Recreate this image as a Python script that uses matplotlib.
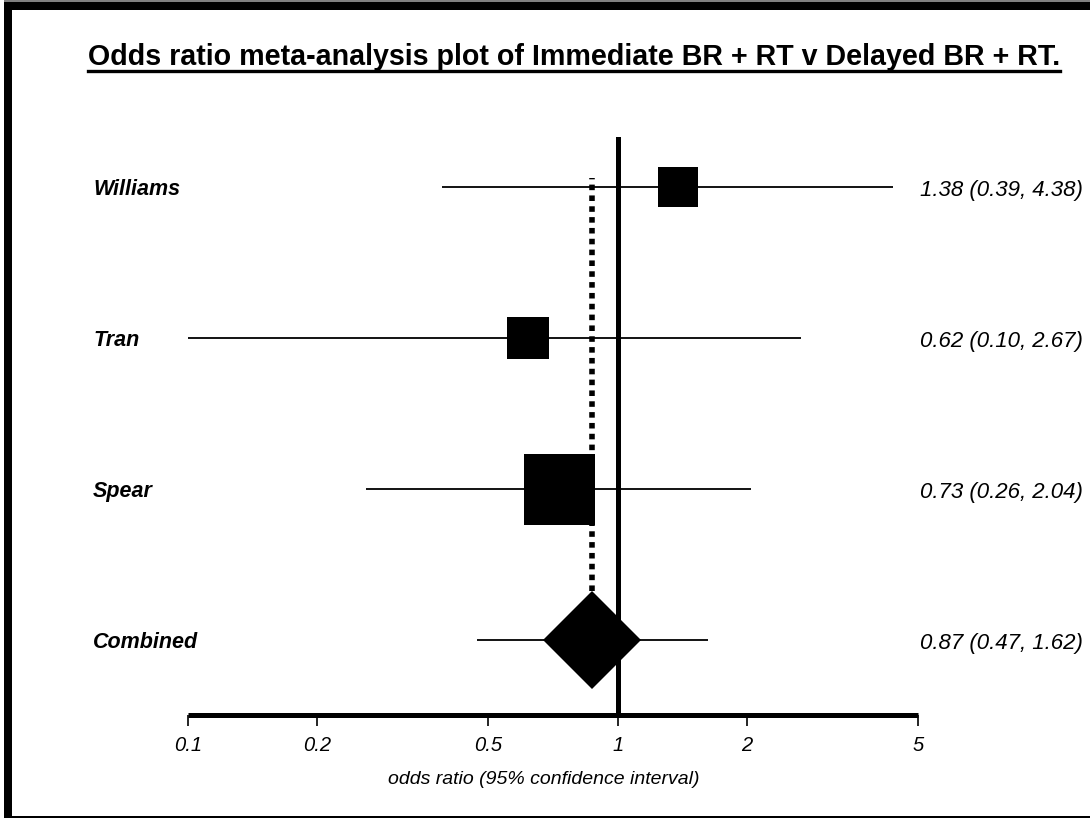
import matplotlib
matplotlib.use("Agg")
import matplotlib.pyplot as plt
from matplotlib.lines import Line2D
from matplotlib.patches import Rectangle
import matplotlib.transforms as mtransforms
import numpy as np

# ---- data ----
studies = ["Williams", "Tran", "Spear", "Combined"]
odds = [1.38, 0.62, 0.73, 0.87]
ci_low = [0.39, 0.10, 0.26, 0.47]
ci_high = [4.38, 2.67, 2.04, 1.62]
tick_vals = [0.1, 0.2, 0.5, 1, 2, 5]
tick_labels = ["0.1", "0.2", "0.5", "1", "2", "5"]
title = "Odds ratio meta-analysis plot of Immediate BR + RT v Delayed BR + RT."
xlabel = "odds ratio (95% confidence interval)"

# ---- style ----
box_px = [40, 42, 71]          # marker sizes (pixels) for the study boxes
diamond_px = 98
FONT = ["Liberation Sans", "DejaVu Sans"]

W, H, DPI = 1090, 818, 100
fig = plt.figure(figsize=(W / DPI, H / DPI), dpi=DPI)
fig.patch.set_facecolor("white")

# axes spanning pixel box x: 188..918, y(top): 137..715
ax_l, ax_r, ax_t, ax_b = 188, 918, 137, 715
ax = fig.add_axes([ax_l / W, 1 - ax_b / H, (ax_r - ax_l) / W, (ax_b - ax_t) / H])
ax.set_xscale("log")
ax.set_xlim(0.1, 5)
n = len(studies)
ypos = list(range(n - 1, -1, -1))  # Williams at top
y_lo, y_hi = -0.497, 3.33
ax.set_ylim(y_lo, y_hi)
for s in ["top", "right", "left"]:
    ax.spines[s].set_visible(False)
ax.spines["bottom"].set_linewidth(3.6)
ax.spines["bottom"].set_capstyle("butt")
ax.set_yticks([])
ax.set_xticks(tick_vals)
ax.set_xticklabels(tick_labels)
ax.xaxis.set_minor_locator(matplotlib.ticker.NullLocator())
ax.tick_params(axis="x", direction="out", length=8, width=1.2, pad=7,
               labelsize=14.5)
for lab in ax.get_xticklabels():
    lab.set_fontstyle("italic")
    lab.set_family(FONT)
ax.set_xlabel(xlabel, fontsize=14, fontstyle="italic", family=FONT)
ax.xaxis.set_label_coords(0.487, -(780 - ax_b) / (ax_b - ax_t))
ax.xaxis.label.set_va("center")

pt_per_px = 72.0 / DPI

# CI lines
for y, lo, hi in zip(ypos, ci_low, ci_high):
    ax.plot([lo, hi], [y, y], color="black", lw=1.3, solid_capstyle="butt", zorder=2)

# line of no effect
ax.axvline(1, ymin=0, ymax=1, color="black", lw=3.6, zorder=3)

# pooled estimate dotted line (from top of Williams area down to diamond top)
pooled = odds[-1]
diamond_half = (diamond_px / 2) / ((ax_b - ax_t) / (y_hi - y_lo))
ax.plot([pooled, pooled], [ypos[-1] + diamond_half, 3.06], color="black",
        lw=4.0, linestyle=(0, (1.0, 0.95)), dash_capstyle="butt", zorder=2)

# study boxes
for y, o, b in zip(ypos[:-1], odds[:-1], box_px):
    ax.plot([o], [y], marker="s", markersize=b * pt_per_px, color="black",
            mew=0, zorder=4)
# diamond
ax.plot([pooled], [ypos[-1]], marker="D", markersize=diamond_px * pt_per_px / np.sqrt(2),
        color="black", mew=0, zorder=4)

# labels
blend = mtransforms.blended_transform_factory(fig.transFigure, ax.transData)
for y, name, o, lo, hi in zip(ypos, studies, odds, ci_low, ci_high):
    ax.text(93 / W, y - 0.02, name, transform=blend,
            ha="left", va="center", fontsize=15.5, fontweight="bold", fontstyle="italic", family=FONT)
    ax.text(920 / W, y - 0.025, f"{o:.2f} ({lo:.2f}, {hi:.2f})", transform=blend,
            ha="left", va="center", fontsize=16, fontstyle="italic", family=FONT)

# title with underline
t = fig.text(574 / W, 1 - 57 / H, title, ha="center", va="center", fontsize=20.6,
             fontweight="bold", family=FONT)
fig.canvas.draw()
bb = t.get_window_extent()
uy = 1 - 71 / H
fig.add_artist(Line2D([bb.x0 / W, bb.x1 / W], [uy, uy], transform=fig.transFigure,
                      color="black", lw=2.4))

# border (left and top thick, bottom thin)
fig.add_artist(Rectangle((4 / W, 0), 8 / W, 1 - 2 / H, transform=fig.transFigure,
                         color="black", lw=0))
fig.add_artist(Rectangle((4 / W, 1 - 10 / H), 1, 8 / H, transform=fig.transFigure,
                         color="black", lw=0))
fig.add_artist(Rectangle((4 / W, 1 - 2 / H), 1, 2 / H, transform=fig.transFigure,
                         color="#808080", lw=0))
fig.add_artist(Rectangle((4 / W, 0), 1, 2 / H, transform=fig.transFigure,
                         color="black", lw=0))

fig.savefig("out.png", dpi=DPI)
